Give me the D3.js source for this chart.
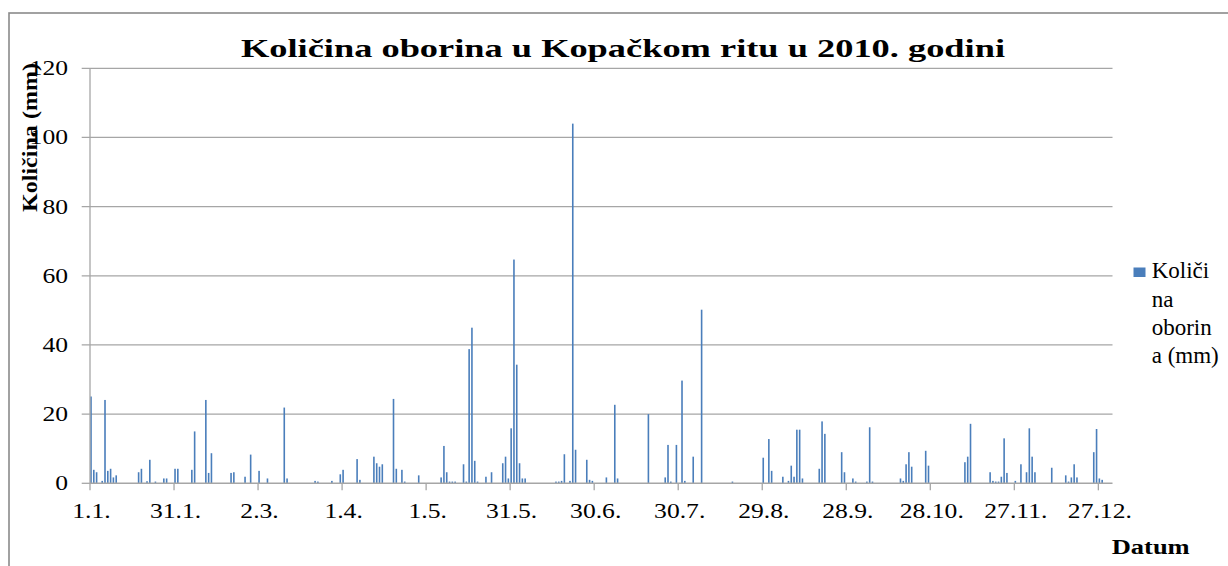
<!DOCTYPE html>
<html>
<head>
<meta charset="utf-8">
<script src="https://cdn.jsdelivr.net/npm/d3@7"></script>
<style>
  html, body { margin: 0; padding: 0; background: #fff; }
  svg { display: block; }
  text { font-family: "Liberation Serif", "Times New Roman", serif; fill: #000; }
</style>
</head>
<body>
<svg id="chart" width="1228" height="566"></svg>
<script>
// ---- data (day index of 2010, 0 = 1.1.) ----
const rainDays = [0,1,2,4,5,6,7,8,9,17,18,20,21,23,26,27,30,31,36,37,41,42,43,50,51,55,57,60,63,69,70,80,81,86,
  89,90,95,96,101,102,103,104,108,109,111,112,117,125,126,127,128,129,130,133,134,135,136,137,138,141,143,147,148,149,
  150,151,152,153,154,155,166,167,168,169,171,172,173,177,178,179,184,187,188,199,205,206,207,209,211,212,215,218,229,
  240,242,243,247,249,250,251,252,253,254,260,261,262,268,269,272,273,277,278,279,289,290,291,292,293,298,299,
  312,313,314,321,322,323,324,325,326,327,330,332,334,335,336,337,343,348,349,350,351,352,358,359,360,361];
const rainMm = [25.1,3.9,3.2,0.7,24.1,3.6,4.2,1.7,2.3,3.2,4.2,0.6,6.8,0.5,1.4,1.4,4.2,4.2,3.9,15.0,24.1,3.0,8.7,3.0,3.2,1.9,8.3,3.6,1.4,21.9,1.4,0.7,0.5,0.7,
  2.6,3.9,7.0,1.0,7.7,5.8,4.8,5.5,24.4,4.2,3.9,0.5,2.3,1.7,10.8,3.2,0.5,0.5,0.5,5.5,0.5,38.8,45.0,6.5,0.5,1.9,3.2,5.8,7.7,1.4,
  15.9,64.7,34.3,5.8,1.4,1.4,0.5,0.5,0.7,8.4,0.7,104.0,9.7,6.8,1.0,0.7,1.7,22.7,1.4,20.0,1.7,11.1,0.5,11.1,29.7,0.7,7.7,50.2,0.5,
  7.4,12.8,3.6,1.9,0.7,5.1,1.9,15.5,15.5,1.4,4.2,17.9,14.3,9.0,3.2,1.4,0.5,0.5,16.2,0.5,1.4,0.7,5.5,9.0,4.8,9.4,5.1,
  6.1,7.7,17.2,3.2,0.7,0.5,0.5,1.9,13.0,3.0,0.7,5.5,3.2,15.9,7.7,3.2,4.5,2.3,0.5,1.7,5.5,1.7,9.0,15.7,1.4,1.0];
const tickLabels = ["1.1.","31.1.","2.3.","1.4.","1.5.","31.5.","30.6.","30.7.","29.8.","28.9.","28.10.","27.11.","27.12."];
const yTicks = [0,20,40,60,80,100,120];
const titleText = "Količina oborina u Kopačkom ritu u 2010. godini";
const yTitle = "Količina (mm)";
const xTitle = "Datum";
const legendLines = ["Količi","na","oborin","a (mm)"];

// ---- categories: every day from 1.1.2010 (plus one trailing empty slot) ----
const dates = d3.timeDay.range(new Date(2010,0,1), new Date(2011,0,2));
const fmt = d3.timeFormat("%-d.%-m.");
const dayIdx = d3.range(dates.length);

const svg = d3.select("#chart");
const step = 2.801;
const x = d3.scalePoint().domain(dayIdx).range([90, 90 + (dates.length - 1) * step]);
const y = d3.scaleLinear().domain([0,120]).range([483.3, 68.3]);
const plotRight = 1112.5;

// outer frame
svg.append("rect").attr("x",9).attr("y",13).attr("width",1240).attr("height",600)
  .attr("fill","none").attr("stroke","#8a8a8a").attr("stroke-width",1.6);

// gridlines + y ticks
const gy = svg.append("g");
gy.selectAll("line.grid").data(yTicks.filter(d=>d>0)).join("line")
  .attr("x1",81.7).attr("x2",plotRight).attr("y1",d=>y(d)).attr("y2",d=>y(d))
  .attr("stroke","#a6a6a6").attr("stroke-width",1.3);
svg.append("line").attr("x1",81.7).attr("x2",90).attr("y1",y(0)).attr("y2",y(0))
  .attr("stroke","#a6a6a6").attr("stroke-width",1.3);
gy.selectAll("text").data(yTicks).join("text")
  .attr("transform",d=>`translate(68,${y(d)+7}) scale(1.22,1)`)
  .attr("text-anchor","end").attr("font-size",21).text(d=>d);

// tick label lookup
const tickIdx = tickLabels.map(l => dates.findIndex(dt => fmt(dt) === l));

// bars
svg.append("g").selectAll("rect").data(rainDays.map((d,i)=>({d, v: rainMm[i]}))).join("rect")
  .attr("x", p => x(p.d) + 0.2)
  .attr("width", 1.6)
  .attr("y", p => y(p.v))
  .attr("height", p => y(0) - y(p.v))
  .attr("fill", "#4a7ebb");

// axes lines
svg.append("line").attr("x1",90).attr("x2",90).attr("y1",68.3).attr("y2",y(0))
  .attr("stroke","#a6a6a6").attr("stroke-width",1.3);
svg.append("line").attr("x1",90).attr("x2",plotRight).attr("y1",y(0)).attr("y2",y(0))
  .attr("stroke","#a6a6a6").attr("stroke-width",1.5);

// x ticks
const gx = svg.append("g");
gx.selectAll("line").data(tickIdx).join("line")
  .attr("x1",d=>x(d)).attr("x2",d=>x(d)).attr("y1",y(0)).attr("y2",y(0)+7)
  .attr("stroke","#a6a6a6").attr("stroke-width",1.3);
gx.selectAll("text").data(tickIdx).join("text")
  .attr("transform",d=>`translate(${x(d)+1.5},518.3) scale(1.22,1)`)
  .attr("text-anchor","middle").attr("font-size",21).text(d=>fmt(dates[d]));

// title
svg.append("text").attr("x",241).attr("y",57.3).attr("font-size",25).attr("font-weight","bold")
  .attr("textLength",764).attr("lengthAdjust","spacingAndGlyphs").text(titleText);

// y title
svg.append("text").attr("transform","translate(37,212) rotate(-90)")
  .attr("font-size",21).attr("font-weight","bold")
  .attr("textLength",149).attr("lengthAdjust","spacingAndGlyphs").text(yTitle);

// x title
svg.append("text").attr("x",1111.7).attr("y",554).attr("font-size",20).attr("font-weight","bold")
  .attr("textLength",78).attr("lengthAdjust","spacingAndGlyphs").text(xTitle);

// legend
svg.append("rect").attr("x",1133.5).attr("y",267.5).attr("width",12).attr("height",9.5).attr("fill","#4a7ebb");
svg.append("g").selectAll("text").data(legendLines).join("text")
  .attr("x",1151.7).attr("y",(d,i)=>278.3 + i*28.35).attr("font-size",23).text(d=>d);
</script>
</body>
</html>
